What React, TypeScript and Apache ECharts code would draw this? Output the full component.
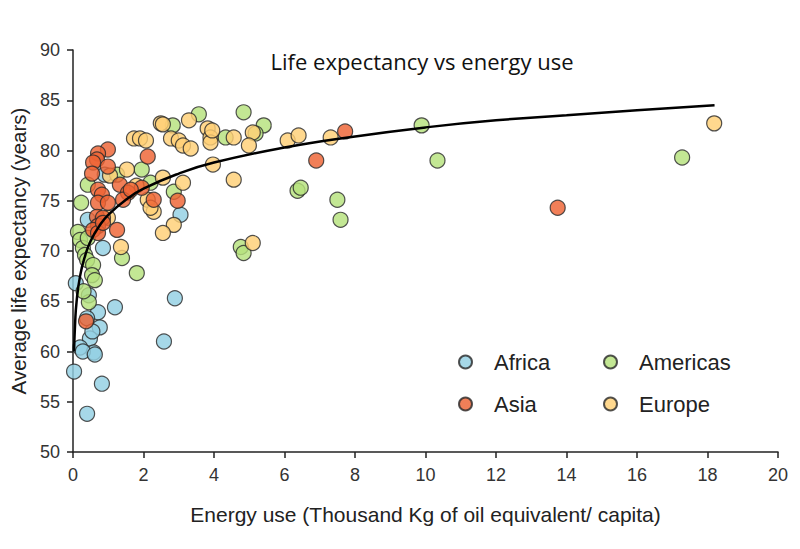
import React, { useEffect, useRef } from "react";
import * as echarts from "echarts";

// Energy use (thousand kg oil equivalent per capita) vs life expectancy (years)
const africa: [number, number][] = [
  [0.03, 58.0], [0.4, 53.8], [0.82, 56.8], [2.58, 61.0], [2.89, 65.3], [1.19, 64.4],
  [3.05, 73.6], [0.71, 63.9], [0.4, 63.3], [0.76, 62.4], [0.48, 61.3], [0.2, 60.4],
  [0.59, 59.9], [0.28, 60.0], [0.08, 66.8], [0.45, 65.6], [0.42, 73.1], [0.85, 70.3],
  [0.9, 77.6], [0.62, 59.7], [0.55, 62.0],
];

const americas: [number, number][] = [
  [0.14, 71.9], [0.2, 71.1], [0.28, 70.3], [0.42, 71.3], [0.34, 69.6], [0.4, 69.1],
  [0.57, 68.6], [0.54, 67.6], [0.62, 67.1], [0.45, 64.9], [1.81, 67.8], [1.39, 69.3],
  [0.42, 76.6], [1.95, 78.1], [1.25, 77.6], [0.23, 74.8], [2.86, 75.9], [2.2, 76.8],
  [2.83, 82.5], [3.57, 83.6], [4.84, 83.8], [4.33, 81.3], [5.41, 82.5], [5.18, 81.7],
  [4.76, 70.4], [4.84, 69.8], [6.37, 76.0], [6.46, 76.3], [7.5, 75.1], [7.59, 73.1],
  [9.89, 82.5], [10.34, 79.0], [17.28, 79.3], [0.3, 66.0],
];

const europe: [number, number][] = [
  [2.49, 82.7], [2.55, 82.6], [3.29, 83.0], [3.82, 82.2], [3.9, 81.3], [3.9, 80.8],
  [4.56, 81.3], [5.1, 81.8], [4.99, 80.5], [2.78, 81.2], [3.0, 81.0], [3.12, 80.5],
  [3.34, 80.2], [1.73, 81.2], [1.9, 81.2], [2.07, 81.0], [2.55, 77.3], [3.97, 78.6],
  [4.56, 77.1], [3.12, 76.8], [2.86, 72.6], [2.55, 71.8], [2.12, 75.1], [2.29, 73.9],
  [2.2, 74.3], [1.36, 70.4], [5.1, 70.8], [6.09, 81.0], [6.4, 81.5], [7.31, 81.3],
  [18.19, 82.7], [1.53, 78.1], [0.99, 73.3], [1.05, 77.5], [1.8, 76.5], [3.95, 82.0],
];

const asia: [number, number][] = [
  [0.99, 80.1], [0.71, 79.7], [0.68, 79.1], [0.99, 78.4], [0.57, 78.8], [0.54, 77.7],
  [1.33, 76.6], [1.95, 76.3], [1.56, 75.8], [0.71, 76.1], [0.82, 75.6], [0.71, 74.8],
  [0.99, 74.8], [1.42, 75.1], [2.12, 79.4], [0.68, 73.4], [0.85, 73.3], [0.71, 72.5],
  [0.57, 72.1], [0.71, 71.8], [0.85, 72.8], [1.25, 72.1], [2.29, 75.1], [1.64, 76.1],
  [2.97, 75.0], [6.9, 79.0], [7.72, 81.9], [13.75, 74.3], [0.37, 63.0],
];

// Logarithmic trend, sampled along the drawn curve
const trend: [number, number][] = [
  [0.03, 60.0], [0.06, 62.8], [0.1, 64.9], [0.2, 67.5], [0.35, 69.6], [0.5, 71.0],
  [0.75, 72.5], [1, 73.6], [1.5, 75.1], [2, 76.2], [3, 77.7], [4, 78.8], [6, 80.3],
  [8, 81.4], [10, 82.3], [12, 83.0], [14, 83.5], [16, 84.0], [18.2, 84.5],
];

const colors = {
  Africa: "#93cfe3",
  Asia: "#ee6333",
  Americas: "#b6e27c",
  Europe: "#ffd075",
};

const AXIS_FONT = "'Liberation Sans', Arial, sans-serif";

export default function App() {
  const ref = useRef<HTMLDivElement>(null);

  useEffect(() => {
    if (!ref.current) return;
    const chart = echarts.init(ref.current, undefined, { renderer: "svg" });

    const scatter = (name: keyof typeof colors, data: [number, number][]) => ({
      name,
      type: "scatter",
      data,
      symbol: "circle",
      symbolSize: 15,
      z: 2,
      itemStyle: {
        color: colors[name],
        opacity: 0.82,
        borderColor: "#2b2b2b",
        borderWidth: 1.2,
      },
    });

    const legendBase = {
      orient: "vertical",
      icon: "circle",
      itemWidth: 13,
      itemHeight: 13,
      itemGap: 18,
      textStyle: {
        fontFamily: AXIS_FONT,
        fontSize: 22,
        color: "#222",
        lineHeight: 24,
        padding: [0, 0, 0, 17],
      },
    };

    chart.setOption({
      animation: false,
      backgroundColor: "#ffffff",
      title: {
        text: "Life expectancy vs energy use",
        left: 417,
        textAlign: "center",
        top: 45,
        textStyle: {
          fontFamily: "'Open Sans', 'Noto Sans', sans-serif",
          fontSize: 22,
          fontWeight: "normal",
          color: "#111",
        },
      },
      legend: [
        { ...legendBase, data: ["Africa", "Asia"], left: 453, top: 345 },
        { ...legendBase, data: ["Americas", "Europe"], left: 598, top: 345 },
      ],
      grid: { left: 72, right: 22, top: 50, bottom: 97 },
      xAxis: {
        type: "value",
        min: 0,
        max: 20,
        interval: 2,
        name: "Energy use (Thousand Kg of oil equivalent/ capita)",
        nameLocation: "middle",
        nameGap: 52,
        nameTextStyle: { fontFamily: AXIS_FONT, fontSize: 21, color: "#222" },
        splitLine: { show: false },
        axisLine: { lineStyle: { color: "#222", width: 1.5 } },
        axisTick: { length: 6, lineStyle: { color: "#222", width: 1.5 } },
        axisLabel: { fontFamily: AXIS_FONT, fontSize: 18, color: "#333", margin: 14 },
      },
      yAxis: {
        type: "value",
        min: 50,
        max: 90,
        interval: 5,
        name: "Average life expectancy (years)",
        nameLocation: "middle",
        nameGap: 44,
        nameTextStyle: { fontFamily: AXIS_FONT, fontSize: 20.5, color: "#222" },
        splitLine: { show: false },
        axisLine: { show: true, lineStyle: { color: "#222", width: 1.5 } },
        axisTick: { show: true, length: 6, lineStyle: { color: "#222", width: 1.5 } },
        axisLabel: { fontFamily: AXIS_FONT, fontSize: 18, color: "#333", margin: 13 },
      },
      series: [
        scatter("Africa", africa),
        scatter("Americas", americas),
        scatter("Europe", europe),
        scatter("Asia", asia),
        {
          name: "trend",
          type: "line",
          data: trend,
          smooth: true,
          showSymbol: false,
          symbol: "none",
          z: 5,
          lineStyle: { color: "#000", width: 2.5 },
        },
      ],
    });

    return () => chart.dispose();
  }, []);

  return (
    <div
      ref={ref}
      style={{ position: "fixed", left: 0, top: 0, width: 800, height: 549 }}
    />
  );
}
